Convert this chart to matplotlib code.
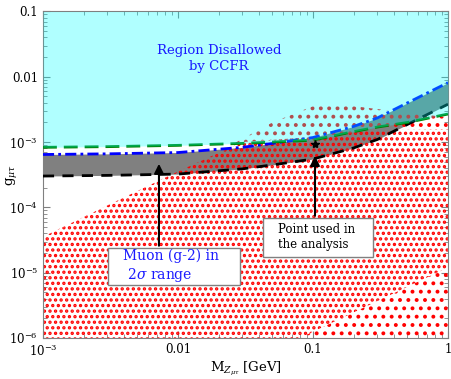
import numpy as np
import matplotlib
matplotlib.use("Agg")
import matplotlib.pyplot as plt
from matplotlib.patches import Rectangle

plt.rcParams['font.family'] = ['DejaVu Serif']
plt.rcParams['mathtext.fontset'] = 'dejavuserif'
plt.rcParams['hatch.linewidth'] = 1.6

# curves (log10 values)
M_curve = [1e-3, 3e-3, 1e-2, 3e-2, 5e-2, 0.1, 0.2, 0.3, 0.5, 1.0]
log_g2_upper = [-3.19, -3.18, -3.16, -3.08, -3.02, -2.93, -2.76, -2.63, -2.40, -2.09]
log_g2_lower = [-3.52, -3.51, -3.49, -3.41, -3.35, -3.26, -3.09, -2.96, -2.73, -2.42]
log_ccfr = [-3.08, -3.07, -3.05, -3.02, -3.00, -2.97, -2.84, -2.77, -2.70, -2.57]

# scan region outlines (log10 g)
M_dense = [1e-3, 3e-3, 1e-2, 3e-2, 0.1, 0.3, 1.0]
log_dense_top = [-4.45, -3.97, -3.45, -3.00, -2.92, -2.82, -2.80]
M_sparse_top = [2e-2, 5e-2, 0.1, 0.2, 0.5, 1.0]
log_sparse_top = [-3.15, -2.70, -2.45, -2.45, -2.55, -2.62]
M_tail = [0.08, 1.0]
log_tail = [-6.0, -4.92]

point_M, point_log_g = 0.1035, -3.03

xticks = [1e-3, 1e-2, 0.1, 1]
xlabels = ['$10^{-3}$', '0.01', '0.1', '1']
yticks = [1e-6, 1e-5, 1e-4, 1e-3, 1e-2, 0.1]
ylabels = ['$10^{-6}$', '$10^{-5}$', '$10^{-4}$', '$10^{-3}$', '0.01', '0.1']

fig = plt.figure(figsize=(4.51, 3.79), dpi=100)
ax = fig.add_axes([0.0953, 0.1082, 0.8980, 0.8615])
ax.set_xscale('log')
ax.set_yscale('log')
ax.set_xlim(1e-3, 1)
ax.set_ylim(1e-6, 0.1)

M_curve = np.array(M_curve)
up = 10 ** np.array(log_g2_upper)
lo = 10 ** np.array(log_g2_lower)
cc = 10 ** np.array(log_ccfr)

# g-2 band
ax.fill_between(M_curve, lo, up, color='#808080', lw=0, zorder=1)

# scan points (dotted texture)
dense_x = [1e-3] + M_dense + [1.0, M_tail[1], M_tail[0]]
dense_y = [1e-6] + list(10 ** np.array(log_dense_top)) + [10 ** log_tail[1], 10 ** log_tail[1], 10 ** log_tail[0]]
ax.fill(dense_x, dense_y, facecolor='none', edgecolor='red', lw=0, hatch='...', zorder=2)
sp_x = M_sparse_top + M_dense[::-1][:4]
sp_y = list(10 ** np.array(log_sparse_top)) + list(10 ** np.array(log_dense_top[::-1][:4]))
ax.fill(sp_x, sp_y, facecolor='none', edgecolor='red', lw=0, hatch='..', zorder=2)
ax.fill([M_tail[0], M_tail[1], M_tail[1]], [10 ** log_tail[0], 10 ** log_tail[1], 10 ** log_tail[0]],
        facecolor='none', edgecolor='red', lw=0, hatch='..', zorder=2)

ax.plot(M_curve, lo, color='black', ls=(0, (4, 3)), lw=2, zorder=3)
ax.plot(M_curve, up, color='blue', ls=(0, (4, 1.5, 1, 1.5)), lw=2, zorder=3)
ax.plot(M_curve, cc, color='green', ls=(0, (5, 2.5)), lw=2, zorder=3)

# CCFR excluded region
ax.fill_between(M_curve, cc, 0.1, color='cyan', alpha=0.31, lw=0, zorder=4)

ax.text(0.435, 0.856, 'Region Disallowed\nby CCFR', transform=ax.transAxes, ha='center', va='center',
        color='#1a1aff', fontsize=9.5, linespacing=1.25, zorder=6)

ax.add_patch(Rectangle((0.160, 0.163), 0.326, 0.113, transform=ax.transAxes, facecolor='white',
                       edgecolor='#808080', lw=1, zorder=6))
ax.text(0.198, 0.219, 'Muon (g-2) in\n 2$\\sigma$ range', transform=ax.transAxes, ha='left', va='center',
        color='#1a1aff', fontsize=10, linespacing=1.2, zorder=7)
ax.add_patch(Rectangle((0.543, 0.248), 0.272, 0.120, transform=ax.transAxes, facecolor='white',
                       edgecolor='#808080', lw=1, zorder=6))
ax.text(0.580, 0.308, 'Point used in\nthe analysis', transform=ax.transAxes, ha='left', va='center',
        color='black', fontsize=8.5, linespacing=1.2, zorder=7)

ax.annotate('', xy=(0.00723, 10 ** -3.29), xytext=(0.00723, 10 ** -4.63),
            arrowprops=dict(arrowstyle='-|>', color='black', lw=1.5, mutation_scale=14), zorder=8)
ax.annotate('', xy=(point_M, 10 ** -3.17), xytext=(point_M, 10 ** -4.17),
            arrowprops=dict(arrowstyle='-|>', color='black', lw=1.5, mutation_scale=14), zorder=8)
ax.plot([point_M], [10 ** point_log_g], marker='*', color='black', ms=6, zorder=8)

ax.set_xticks(xticks)
ax.set_xticklabels(xlabels)
ax.set_yticks(yticks)
ax.set_yticklabels(ylabels)
ax.tick_params(which='both', direction='in', top=True, right=True, colors='#808080', labelcolor='black',
               labelsize=8.5)
ax.tick_params(which='major', length=5)
ax.tick_params(which='minor', length=3)
for s in ax.spines.values():
    s.set_color('#808080')
ax.set_xlabel('M$_{Z_{\\mu\\tau}}$ [GeV]', fontsize=9.5)
ax.xaxis.set_label_coords(0.5, -0.066)
ax.set_ylabel('g$_{\\mu\\tau}$', fontsize=9.5)
ax.yaxis.set_label_coords(-0.058, 0.5)

fig.savefig('out.png', dpi=100)
